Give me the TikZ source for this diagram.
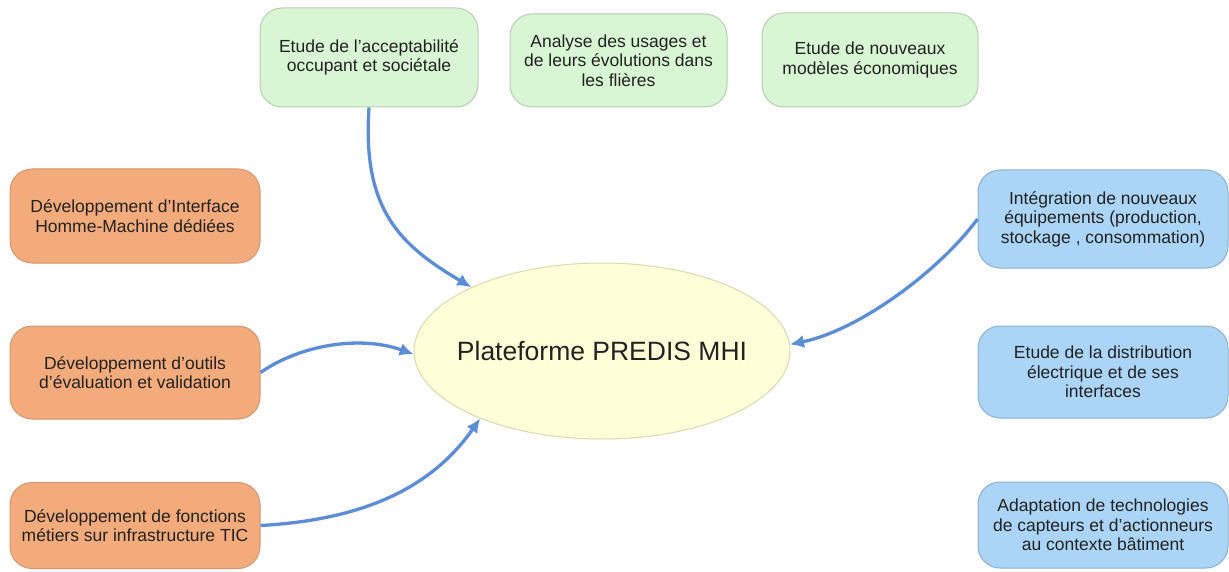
\documentclass[tikz,border=0pt]{standalone}
\usepackage{fontspec}
\setmainfont{Liberation Sans}
\usetikzlibrary{shapes.geometric,arrows.meta}
\definecolor{gfill}{HTML}{D9F6D4}
\definecolor{gline}{HTML}{B9CDB4}
\definecolor{ofill}{HTML}{F4AB7C}
\definecolor{oline}{HTML}{CC9873}
\definecolor{bfill}{HTML}{ABD5F6}
\definecolor{bline}{HTML}{8EAFCF}
\definecolor{yfill}{HTML}{FFFFD8}
\definecolor{yline}{HTML}{D9D9AE}
\definecolor{arrc}{HTML}{5B8ED6}
\definecolor{txt}{HTML}{222222}
\begin{document}
\begin{tikzpicture}[x=1pt,y=-1pt,
  box/.style={rectangle,rounded corners=22pt,line width=1pt,inner sep=0pt,align=center,
    text=txt,font=\fontsize{17.5}{19.5}\selectfont},
  gbox/.style={box,fill=gfill,draw=gline},
  obox/.style={box,fill=ofill,draw=oline},
  bbox/.style={box,fill=bfill,draw=bline},
  hubst/.style={ellipse,fill=yfill,draw=yline,line width=1pt,inner sep=0pt,
    minimum width=376pt,minimum height=176pt},
  hubtext/.style={text=txt,font=\fontsize{26.5}{30}\selectfont},
  arr/.style={draw=arrc,line width=3.3pt,-{Latex[length=14pt,width=13pt]}}]
\useasboundingbox (0,0) rectangle (1229,572);

\node[gbox,minimum width=218pt,minimum height=99pt] (g1) at (369,57.5)
  {Etude de l'acceptabilité\\occupant et sociétale};
\node[gbox,minimum width=217pt,minimum height=93pt] (g2) at (618.5,60.5)
  {Analyse des usages et\\de leurs évolutions dans\\les flières};
\node[gbox,minimum width=216pt,minimum height=94pt] (g3) at (870,60)
  {Etude de nouveaux\\modèles économiques};

\node[obox,minimum width=250pt,minimum height=94pt] (o1) at (135,216)
  {Développement d’Interface\\Homme-Machine dédiées};
\node[obox,minimum width=250pt,minimum height=93pt] (o2) at (135,372.5)
  {Développement d’outils\\d’évaluation et validation};
\node[obox,minimum width=250pt,minimum height=86pt] (o3) at (135,525.5)
  {Développement de fonctions\\métiers sur infrastructure TIC};

\node[bbox,minimum width=250pt,minimum height=98pt] (b1) at (1103,219)
  {Intégration de nouveaux\\équipements (production,\\stockage , consommation)};
\node[bbox,minimum width=250pt,minimum height=92pt] (b2) at (1103,372)
  {Etude de la distribution\\électrique et de ses\\interfaces};
\node[bbox,minimum width=250pt,minimum height=86pt] (b3) at (1103,525)
  {Adaptation de technologies\\de capteurs et d’actionneurs\\au contexte bâtiment};

\node[hubst,label={[hubtext]center:Plateforme PREDIS MHI}] (hub) at (602,351) {};

\draw[arr] (g1.south) .. controls (362,210) and (400,245) .. (hub.154);
\draw[arr] (o2.east) .. controls (300,345) and (360,335) .. (hub.181);
\draw[arr] (o3.east) .. controls (360,520) and (430,490) .. (hub.209);
\draw[arr] (b1.west) .. controls (940,270) and (860,330) .. (hub.2);
\end{tikzpicture}
\end{document}
